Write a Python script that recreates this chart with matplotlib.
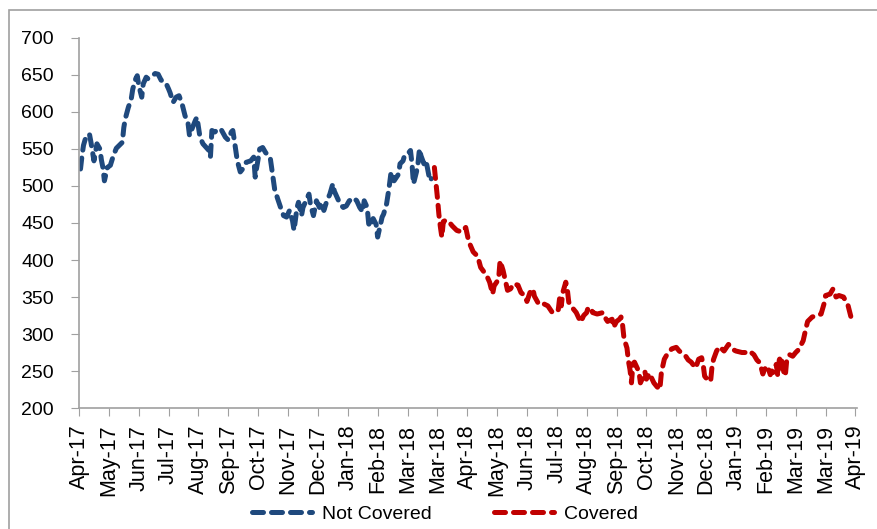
import numpy as np
import matplotlib.pyplot as plt
from matplotlib.patches import Rectangle

plt.rcParams['font.family'] = ['Liberation Sans', 'DejaVu Sans']

# trading day (from Apr-17) and price
nc_day = [1, 2, 3, 4, 5, 7, 8, 10, 12, 14, 15, 16, 17, 19, 21, 23, 25, 29, 30, 31,
          33, 35, 36, 38, 39, 40, 42, 43, 45, 46, 49, 51, 53, 55, 58, 60, 61, 63, 65, 67,
          69, 71, 73, 74, 76, 78, 79, 80, 81, 83, 87, 88, 89, 91, 93, 95, 98, 100, 102, 103,
          104, 105, 106, 108, 110, 112, 115, 117, 118, 119, 120, 121, 123, 125, 128, 129, 130, 131, 133, 135,
          137, 139, 141, 143, 144, 146, 147, 149, 150, 152, 154, 155, 157, 159, 161, 162, 164, 166, 168, 170,
          171, 173, 175, 177, 179, 181, 184, 186, 188, 190, 191, 193, 194, 195, 197, 199, 200, 202, 203, 204,
          206, 207, 208, 209, 211, 212, 214, 215, 217, 218, 220, 222, 223, 224, 226, 227, 228, 229, 231, 232,
          233, 235, 236]
nc_val = [523, 541, 555, 562, 568, 570, 559, 534, 557, 550, 535, 525, 507, 525, 528, 541, 551, 559, 579, 591,
          606, 618, 631, 645, 649, 636, 620, 638, 647, 645, 649, 652, 651, 643, 640, 631, 626, 613, 620, 622,
          611, 595, 585, 568, 579, 589, 593, 579, 566, 557, 548, 539, 575, 573, 577, 577, 566, 562, 573, 575,
          562, 548, 534, 519, 524, 532, 534, 539, 512, 525, 537, 550, 552, 545, 539, 525, 512, 496, 483, 471,
          460, 458, 467, 453, 440, 471, 478, 460, 471, 480, 489, 475, 460, 480, 471, 478, 467, 480, 489, 503,
          493, 484, 475, 471, 473, 480, 484, 480, 471, 465, 480, 471, 449, 445, 456, 448, 431, 449, 458, 462,
          476, 489, 503, 519, 507, 510, 516, 530, 534, 541, 543, 548, 530, 503, 519, 530, 550, 541, 530, 535,
          528, 507, 510]

cv_day = [238, 239, 240, 241, 242, 243, 244, 246, 248, 250, 253, 256, 259, 261, 264, 267, 269, 273, 275, 277,
          278, 281, 282, 284, 285, 287, 289, 291, 294, 296, 299, 300, 302, 304, 305, 308, 311, 314, 317, 319,
          321, 322, 323, 324, 326, 327, 328, 331, 333, 336, 338, 340, 341, 343, 344, 347, 351, 353, 354, 357,
          358, 360, 362, 363, 364, 365, 367, 368, 369, 370, 371, 372, 375, 376, 378, 379, 380, 382, 385, 387,
          389, 390, 391, 392, 394, 397, 400, 402, 406, 408, 410, 413, 415, 417, 418, 419, 421, 423, 424, 425,
          427, 429, 430, 432, 434, 435, 438, 440, 444, 447, 449, 452, 454, 456, 458, 459, 461, 463, 464, 465,
          467, 468, 469, 470, 472, 473, 474, 476, 478, 480, 482, 485, 487, 488, 491, 494, 497, 499, 500, 503,
          505, 507, 509, 512, 515, 517]
cv_val = [525, 505, 485, 462, 445, 431, 452, 454, 451, 446, 440, 438, 444, 425, 411, 405, 390, 379, 370, 354,
          365, 374, 399, 386, 377, 359, 361, 368, 366, 356, 351, 344, 356, 361, 351, 340, 341, 338, 329, 329,
          333, 351, 338, 356, 370, 361, 343, 334, 329, 316, 325, 329, 336, 334, 329, 327, 329, 320, 317, 320,
          309, 317, 320, 323, 313, 294, 281, 263, 252, 234, 260, 262, 249, 234, 243, 249, 239, 247, 234, 229,
          225, 247, 257, 266, 273, 280, 282, 277, 271, 265, 262, 254, 266, 268, 259, 243, 238, 236, 257, 266,
          277, 283, 281, 277, 283, 286, 279, 277, 275, 275, 277, 272, 265, 261, 246, 252, 257, 245, 250, 248,
          259, 243, 265, 270, 249, 243, 265, 272, 270, 275, 279, 291, 309, 317, 323, 325, 327, 341, 352, 354,
          361, 350, 352, 350, 339, 323]

month_labels = ['Apr-17', 'May-17', 'Jun-17', 'Jul-17', 'Aug-17', 'Sep-17', 'Oct-17', 'Nov-17', 'Dec-17',
                'Jan-18', 'Feb-18', 'Mar-18', 'Mar-18', 'Apr-18', 'May-18', 'Jun-18', 'Jul-18', 'Aug-18',
                'Sep-18', 'Oct-18', 'Nov-18', 'Dec-18', 'Jan-19', 'Feb-19', 'Mar-19', 'Mar-19', 'Apr-19']
tick_step = 20

blue = '#1F497D'
red = '#C00000'

fig = plt.figure(figsize=(8.78, 5.29), dpi=100)
ax = fig.add_axes([0.090, 0.2287, 0.886, 0.6995])

# outer frame, only its top and left edges fall inside the picture
fig.patches.append(Rectangle((9 / 878, -0.2), 1.2, 1.2 - 10 / 529,
                             transform=fig.transFigure, fill=False, edgecolor='#A0A0A0', lw=1.2))

lw = 3.6
l1, = ax.plot(nc_day, nc_val, color=blue, lw=lw, dashes=(2.2, 1.6), dash_capstyle='round',
              label='Not Covered')
l2, = ax.plot(cv_day, cv_val, color=red, lw=lw, dashes=(2.2, 1.6), dash_capstyle='round',
              label='Covered')

ticks = np.arange(len(month_labels)) * tick_step
ax.set_xticks(ticks)
ax.set_xticklabels(month_labels, rotation=90, fontsize=15.5)
ax.set_xlim(0, ticks[-1] + 1)
ax.set_ylim(200, 700)
ax.set_yticks(np.arange(200, 701, 50))
ax.tick_params(axis='y', labelsize=14, direction='out', length=6, color='#A0A0A0', pad=12)
ax.tick_params(axis='x', direction='out', length=6, color='#A0A0A0', pad=6)

for s in ['top', 'right']:
    ax.spines[s].set_visible(False)
for s in ['left', 'bottom']:
    ax.spines[s].set_color('#A0A0A0')
    ax.spines[s].set_linewidth(1.2)

fig.legend(handles=[l1, l2], loc='center', bbox_to_anchor=(0.507, 0.028), ncol=2, frameon=False,
           fontsize=14, handlelength=3.1, handletextpad=0.5, columnspacing=3.2)

fig.savefig('out.png', dpi=100)
